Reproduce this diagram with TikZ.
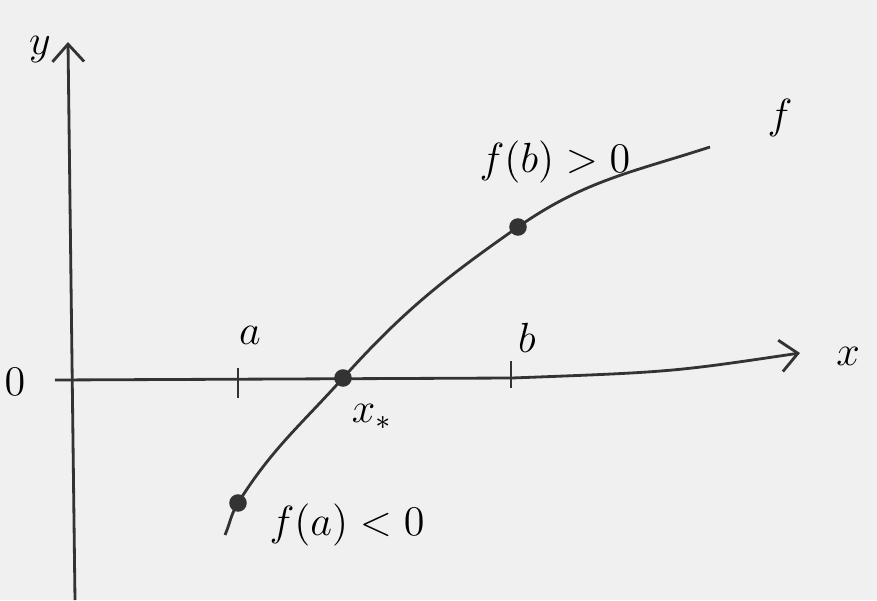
\documentclass[tikz,border=0pt]{standalone}
\usetikzlibrary{arrows.meta}
\begin{document}
\begin{tikzpicture}[font=\large, >={Straight Barb[length=5pt,width=9pt]},
		eje/.style={draw=black!80, thick},
		curva/.style={draw=black!80, thick},
		marca/.style={draw=black!80, thick},
		punto/.style={circle, fill=black!80, inner sep=0pt, minimum size=5pt}]
	\fill[black!6] (-0.72,-2.2) rectangle (8.05,3.8);
	\useasboundingbox (-0.72,-2.2) rectangle (8.05,3.8);
	% ejes
	\coordinate (ya) at (0.03,-2.2);
	\coordinate (yb) at (-0.04,3.38);
	\coordinate (xa) at (-0.17,0);
	\coordinate (xb) at (7.28,0.27);
	\draw[eje, ->] (ya) -- (yb);
	\draw[eje, ->] (xa) -- (4.4,0.02) .. controls (6,0.08) .. (xb);
	\node (ly) at (-0.32,3.3) {$y$};
	\node (lx) at (7.76,0.24) {$x$};
	\node (l0) at (-0.57,-0.02) {$0$};
	% marcas a y b
	\draw[marca] (1.66,0.12) -- (1.66,-0.18);
	\draw[marca] (4.39,0.19) -- (4.39,-0.08);
	\node (la) at (1.78,0.45) {$a$};
	\node (lb) at (4.55,0.42) {$b$};
	% funcion
	\coordinate (c0) at (1.53,-1.55);
	\coordinate (fa) at (1.66,-1.23);
	\coordinate (xs) at (2.71,0.02);
	\coordinate (fb) at (4.46,1.53);
	\coordinate (c1) at (6.38,2.33);
	\draw[curva] (c0) to[out=67,in=238] (fa) to[out=58,in=228] (xs)
		to[out=48,in=215] (fb) to[out=35,in=198] (c1);
	\node[punto] (pa) at (fa) {};
	\node[punto] (px) at (xs) {};
	\node[punto] (pb) at (fb) {};
	\node (lf) at (7.08,2.62) {$f$};
	\node (lfb) at (4.83,2.18) {$f(b)>0$};
	\node (lfa) at (2.75,-1.45) {$f(a)<0$};
	\node (lxs) at (3.0,-0.37) {$x_*$};
\end{tikzpicture}
\end{document}
